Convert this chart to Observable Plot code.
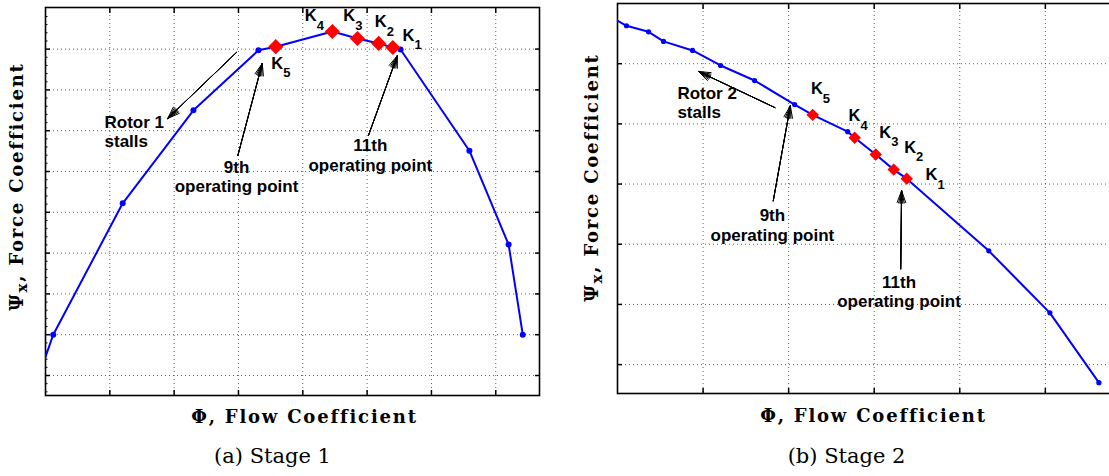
<!DOCTYPE html>
<html><head><meta charset="utf-8">
<script src="https://cdn.jsdelivr.net/npm/d3@7"></script>
<script src="https://cdn.jsdelivr.net/npm/@observablehq/plot@0.6"></script>
<style>
html,body{margin:0;padding:0;background:#fff;}
#wrap{position:relative;width:1109px;height:476px;overflow:hidden;background:#fff;}
#wrap > svg{position:absolute;top:0;margin:0;}
</style></head><body><div id="wrap"></div>
<script>
// ---------- Stage 1 (a) ----------
const stage1Phi = [-0.10, 0.12, 1.20, 2.30, 3.31, 3.58, 4.46, 4.85, 5.18, 5.40, 5.52, 6.59, 7.20, 7.42];
const stage1Psi = [0.00, 1.00, 4.22, 6.50, 7.97, 8.06, 8.43, 8.26, 8.14, 8.04, 7.99, 5.51, 3.21, 1.00];
const stage1KPhi = [5.40, 5.18, 4.85, 4.46, 3.58];
const stage1KPsi = [8.04, 8.14, 8.26, 8.43, 8.06];
const stage1KLabelPhi = [5.55, 5.12, 4.63, 4.03, 3.51];
const stage1KLabelPsi = [8.21, 8.53, 8.68, 8.68, 7.52];
const stage1Notes = ["Rotor 1\nstalls", "9th\noperating point", "11th\noperating point"];
const stage1NotePhi = [0.918, 2.97, 5.05];
const stage1NotePsi = [5.59, 4.49, 5.02];
const stage1NoteAnchor = ["start", "middle", "middle"];
const stage1ArrowFrom = [[2.97, 7.92], [2.99, 5.39], [5.02, 5.88]];
const stage1ArrowTo = [[1.90, 6.30], [3.37, 7.65], [5.47, 7.84]];

// ---------- Stage 2 (b) ----------
const stage2Phi = [-0.058, 0.105, 0.363, 0.538, 0.877, 1.205, 1.602, 2.070, 2.281, 2.690, 2.772, 3.018, 3.228, 3.380, 4.339, 5.053, 5.626];
const stage2Psi = [5.76, 5.63, 5.53, 5.37, 5.22, 4.97, 4.72, 4.32, 4.15, 3.87, 3.77, 3.49, 3.24, 3.09, 1.89, 0.86, -0.30];
const stage2KPhi = [3.380, 3.228, 3.018, 2.772, 2.281];
const stage2KPsi = [3.09, 3.24, 3.49, 3.77, 4.15];
const stage2KLabelPhi = [3.60, 3.35, 3.06, 2.70, 2.26];
const stage2KLabelPsi = [3.06, 3.52, 3.77, 4.04, 4.49];
const stage2Notes = ["Rotor 2\nstalls", "9th\noperating point", "11th\noperating point"];
const stage2NotePhi = [0.70, 1.81, 3.29];
const stage2NotePsi = [4.09, 2.06, 0.95];
const stage2NoteAnchor = ["start", "middle", "middle"];
const stage2ArrowFrom = [[1.84, 4.27], [1.82, 2.72], [3.31, 1.59]];
const stage2ArrowTo = [[0.947, 4.87], [2.02, 4.30], [3.32, 2.89]];

// ---------- shared text ----------
const kLabels = ["K_1", "K_2", "K_3", "K_4", "K_5"];
const xTitle = "Φ, Flow Coefficient";
const yTitle = "Ψ_x, Force Coefficient";
const captions = ["(a) Stage 1", "(b) Stage 2"];

function panel(o) {
  const pts = o.phi.map((x, i) => ({x, y: o.psi[i]}));
  const ks = o.kPhi.map((x, i) => ({x, y: o.kPsi[i]}));
  const kl = kLabels.map((t, i) => ({t, x: o.kLabelPhi[i], y: o.kLabelPsi[i]}));
  const notes = o.notes.map((t, i) => ({t, x: o.notePhi[i], y: o.notePsi[i], a: o.noteAnchor[i]}));
  const arrows = o.arrowFrom.map((f, i) => ({x1: f[0], y1: f[1], x2: o.arrowTo[i][0], y2: o.arrowTo[i][1]}));
  const noLbl = {tickFormat: () => "", label: null};
  const sans = {fontFamily: "Liberation Sans, Arial, sans-serif", fontWeight: "bold", fill: "black"};
  const serifB = {fontFamily: "DejaVu Serif, serif", fontWeight: "bold", fontSize: 18, fill: "black"};
  const marks = [
    Plot.gridX(o.xGrid, {stroke: "#444", strokeOpacity: 0.85, strokeDasharray: "1,3"}),
    Plot.gridY(o.yGrid, {stroke: "#444", strokeOpacity: 0.85, strokeDasharray: "1,3"}),
    Plot.axisX(o.xTicks, {anchor: "bottom", tickSize: -5, strokeWidth: 1.5, ...noLbl}),
    Plot.axisX(o.xTicks, {anchor: "top", tickSize: -5, strokeWidth: 1.5, ...noLbl}),
    Plot.axisY(o.yTicks, {anchor: "left", tickSize: -5, strokeWidth: 1.5, ...noLbl}),
    Plot.axisY(o.yTicks, {anchor: "right", tickSize: -5, strokeWidth: 1.5, ...noLbl}),
  ];
  if (o.yMinor) marks.push(Plot.axisY(o.yMinor, {anchor: "left", tickSize: -2.5, strokeWidth: 1, ...noLbl}));
  marks.push(
    Plot.frame({stroke: "black", strokeWidth: 1.6}),
    Plot.line(pts, {x: "x", y: "y", stroke: "#0000ff", strokeWidth: 2, clip: true}),
    Plot.dot(pts, {x: "x", y: "y", fill: "#0000ff", r: o.dotR, clip: true}),
    Plot.dot(ks, {x: "x", y: "y", symbol: "diamond2", fill: "#ff0000", r: o.kR}),
    ...[40, 26, 14, 6].map(a => Plot.arrow(arrows, {x1: "x1", y1: "y1", x2: "x2", y2: "y2", stroke: "black", strokeWidth: 1, headLength: 19, headAngle: a})),
    Plot.text(kl, {x: "x", y: "y", text: "t", textAnchor: "start", lineAnchor: "bottom", fontSize: 16.5, ...sans}),
    Plot.text(notes.filter(d => d.a === "start"), {x: "x", y: "y", text: "t", textAnchor: "start", lineAnchor: "bottom", lineHeight: 1.15, fontSize: 17, ...sans}),
    Plot.text(notes.filter(d => d.a === "middle"), {x: "x", y: "y", text: "t", textAnchor: "middle", lineAnchor: "bottom", lineHeight: 1.15, fontSize: 17, ...sans}),
    Plot.text([xTitle], {text: d => d, frameAnchor: "bottom", dx: o.xtDx, dy: o.xtDy, lineAnchor: "bottom", ...serifB}),
    Plot.text([yTitle], {text: d => d, frameAnchor: "left", rotate: -90, dx: o.ytDx, dy: o.ytDy, textAnchor: "middle", lineAnchor: "middle", ...serifB}),
    Plot.text([o.caption], {text: d => d, frameAnchor: "bottom", dx: o.capDx, dy: o.capDy, lineAnchor: "bottom", fontFamily: "DejaVu Serif, serif", fontSize: 21, fill: "black"})
  );
  const svg = Plot.plot({
    width: o.width, height: 476,
    marginLeft: o.ml, marginRight: o.mr, marginTop: o.mt, marginBottom: o.mb,
    x: {domain: o.xDomain}, y: {domain: o.yDomain},
    style: {background: "transparent", overflow: "visible"},
    marks
  });
  // subscripts and letter spacing
  d3.select(svg).selectAll("text").each(function () {
    const s = this.textContent;
    if (s.includes("Coefficient")) d3.select(this).attr("letter-spacing", "1.8px");
    if (!s.includes("_") || this.querySelector("tspan")) return;
    const i = s.indexOf("_");
    const head = s.slice(0, i), sub = s[i + 1], tail = s.slice(i + 2);
    const isK = head === "K";
    const shift = isK ? 8.5 : 4, size = isK ? 13 : 15;
    const el = d3.select(this);
    el.text(null);
    el.append("tspan").text(head);
    el.append("tspan").attr("dy", shift).attr("font-size", size).text(sub);
    if (tail) el.append("tspan").attr("dy", -shift).text(tail);
  });
  svg.style.left = o.left + "px";
  return svg;
}

const wrap = document.getElementById("wrap");
wrap.appendChild(panel({
  left: 0, width: 560, ml: 45, mr: 21, mt: 7, mb: 81,
  xDomain: [0, 7.68], yDomain: [-0.49, 9.02],
  xTicks: d3.range(1, 8), yTicks: d3.range(0, 9), xGrid: d3.range(1, 8), yGrid: d3.range(0, 9),
  yMinor: d3.range(-0.4, 9.0, 0.2).filter(v => Math.abs(v - Math.round(v)) > 0.05),
  phi: stage1Phi, psi: stage1Psi, kPhi: stage1KPhi, kPsi: stage1KPsi,
  kLabelPhi: stage1KLabelPhi, kLabelPsi: stage1KLabelPsi,
  notes: stage1Notes, notePhi: stage1NotePhi, notePsi: stage1NotePsi, noteAnchor: stage1NoteAnchor,
  arrowFrom: stage1ArrowFrom, arrowTo: stage1ArrowTo,
  dotR: 3, kR: 6.8,
  xtDx: 12, xtDy: 27, ytDx: -28, ytDy: -15, caption: captions[0], capDx: -20, capDy: 67
}));
wrap.appendChild(panel({
  left: 560, width: 565, ml: 57, mr: 10, mt: 3, mb: 83,
  xDomain: [0, 5.82], yDomain: [-0.48, 6.0],
  xTicks: d3.range(1, 6), yTicks: d3.range(0, 6), xGrid: d3.range(1, 6), yGrid: d3.range(0, 6),
  yMinor: null,
  phi: stage2Phi, psi: stage2Psi, kPhi: stage2KPhi, kPsi: stage2KPsi,
  kLabelPhi: stage2KLabelPhi, kLabelPsi: stage2KLabelPsi,
  notes: stage2Notes, notePhi: stage2NotePhi, notePsi: stage2NotePsi, noteAnchor: stage2NoteAnchor,
  arrowFrom: stage2ArrowFrom, arrowTo: stage2ArrowTo,
  dotR: 2.6, kR: 5.6,
  xtDx: 7, xtDy: 28, ytDx: -25, ytDy: -21, caption: captions[1], capDx: -20, capDy: 69
}));
</script></body></html>
